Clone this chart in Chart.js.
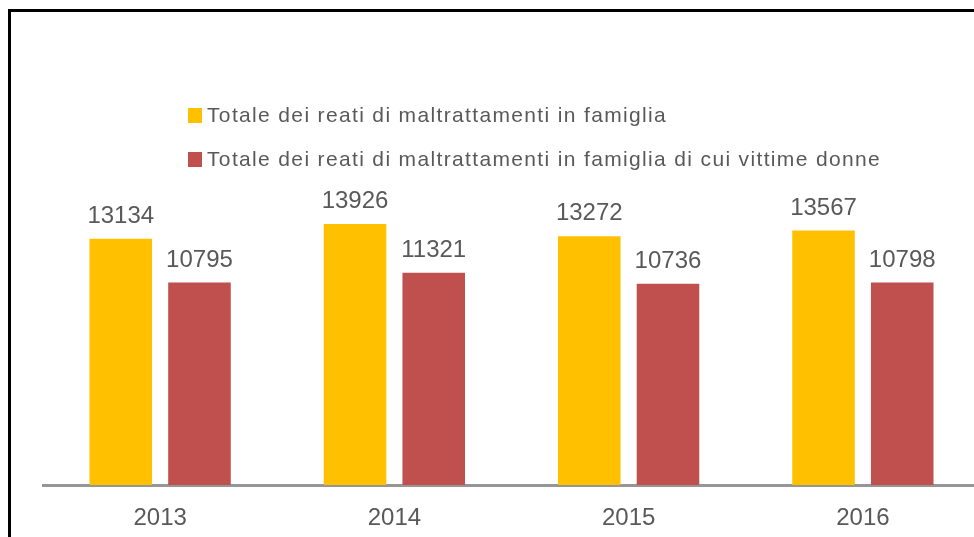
<!DOCTYPE html>
<html>
<head>
<meta charset="utf-8">
<script src="https://cdn.jsdelivr.net/npm/chart.js@4/dist/chart.umd.min.js"></script>
<style>
  html, body { margin: 0; padding: 0; background: #fff; overflow: hidden; width: 974px; height: 537px; }
  #wrap { position: absolute; left: 0; top: 0; width: 990px; height: 537px; }
  #frame { position: absolute; left: 8px; top: 9px; width: 1100px; height: 700px; border: 3px solid #000; box-sizing: border-box; pointer-events: none; }
</style>
</head>
<body>
<div id="wrap"><canvas id="c" width="990" height="537"></canvas></div>
<div id="frame"></div>
<script>
const categories = ['2013', '2014', '2015', '2016'];
const seriesNames = [
  'Totale dei reati di maltrattamenti in famiglia',
  'Totale dei reati di maltrattamenti in famiglia di cui vittime donne'
];
const totaleReati = [13134, 13926, 13272, 13567];
const vittimeDonne = [10795, 11321, 10736, 10798];
const seriesColors = ['#FFC000', '#C0504D'];

const TEXT = '#595959';
const FONT = "'Liberation Sans', Arial, sans-serif";

const valueLabels = {
  id: 'valueLabels',
  afterDatasetsDraw(chart) {
    const ctx = chart.ctx;
    ctx.save();
    ctx.font = '24px ' + FONT;
    ctx.fillStyle = TEXT;
    ctx.textAlign = 'center';
    ctx.textBaseline = 'alphabetic';
    chart.data.datasets.forEach((ds, i) => {
      chart.getDatasetMeta(i).data.forEach((bar, j) => {
        ctx.fillText(String(ds.data[j]), bar.x, bar.y - 16);
      });
    });
    ctx.restore();
  }
};

const customLegend = {
  id: 'customLegend',
  afterDraw(chart) {
    const ctx = chart.ctx;
    ctx.save();
    ctx.font = '21px ' + FONT;
    ctx.letterSpacing = '1.35px';
    ctx.textAlign = 'left';
    ctx.textBaseline = 'alphabetic';
    chart.data.datasets.forEach((ds, i) => {
      const y = 108 + i * 44;
      ctx.fillStyle = ds.backgroundColor;
      ctx.fillRect(188, y, 14, 15);
      ctx.fillStyle = TEXT;
      ctx.fillText(ds.label, 207, y + 14);
    });
    ctx.restore();
  }
};

new Chart(document.getElementById('c'), {
  type: 'bar',
  data: {
    labels: categories,
    datasets: [
      { label: seriesNames[0], data: totaleReati, backgroundColor: seriesColors[0] },
      { label: seriesNames[1], data: vittimeDonne, backgroundColor: seriesColors[1] }
    ]
  },
  options: {
    responsive: false,
    animation: false,
    devicePixelRatio: 1,
    layout: { padding: { left: 43, right: 10, top: 110, bottom: 0 } },
    categoryPercentage: 0.672,
    barPercentage: 0.795,
    plugins: { legend: { display: false }, tooltip: { enabled: false } },
    scales: {
      x: {
        grid: { display: false },
        border: { display: true, color: '#969696', width: 3 },
        ticks: { color: TEXT, font: { size: 24, family: FONT }, padding: 11 },
        afterFit(scale) { scale.height = 52; }
      },
      y: { display: false, min: 0, max: 20000 }
    }
  },
  plugins: [valueLabels, customLegend]
});
</script>
</body>
</html>
